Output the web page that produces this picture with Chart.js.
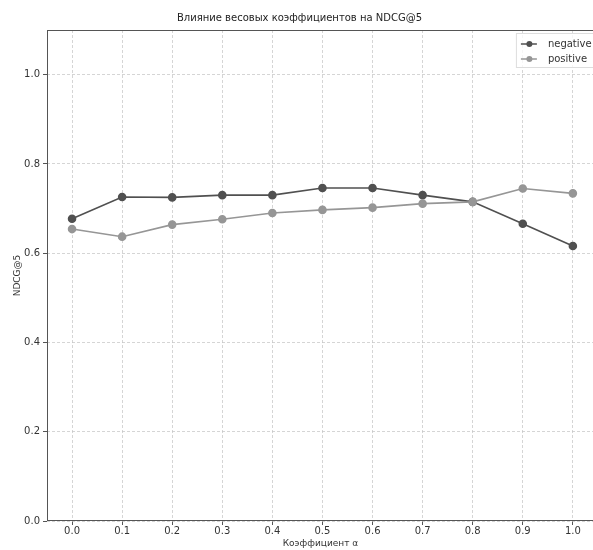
<!DOCTYPE html>
<html>
<head>
<meta charset="utf-8">
<script src="https://cdn.jsdelivr.net/npm/chart.js@4.4.1/dist/chart.umd.min.js"></script>
<style>
  html, body { margin: 0; padding: 0; background: #fff; }
  #wrap { width: 593px; height: 550px; overflow: hidden; position: relative; }
  #chart { display: block; position: absolute; left: 0; top: 0; }
</style>
</head>
<body>
<div id="wrap"><canvas id="chart" width="599" height="550"></canvas></div>
<script>
const alphas = [0.0, 0.1, 0.2, 0.3, 0.4, 0.5, 0.6, 0.7, 0.8, 0.9, 1.0];
const negative = [0.677, 0.726, 0.725, 0.730, 0.730, 0.746, 0.746, 0.730, 0.715, 0.666, 0.616];
const positive = [0.654, 0.637, 0.664, 0.676, 0.690, 0.697, 0.702, 0.711, 0.715, 0.745, 0.734];
const yTicks = [0.0, 0.2, 0.4, 0.6, 0.8, 1.0];

const FONT = "'DejaVu Sans', sans-serif";
const negColor = "#505050";
const posColor = "#969696";

const toPoints = (vals) => vals.map((v, i) => ({ x: alphas[i], y: v }));

// frame around the plot area plus a small legend box in the top-right corner
const framePlugin = {
  id: "frame",
  afterDatasetsDraw(chart) {
    const { ctx, chartArea: a } = chart;
    ctx.save();
    ctx.strokeStyle = "#555";
    ctx.lineWidth = 1;
    ctx.strokeRect(a.left + 0.5, a.top + 0.5, a.right - a.left + 10, a.bottom - a.top - 1);

    const items = [
      { label: "negative", color: negColor },
      { label: "positive", color: posColor },
    ];
    const bx = a.right - 78, by = a.top + 3, bw = 86, bh = 34;
    ctx.fillStyle = "rgba(255,255,255,0.8)";
    ctx.strokeStyle = "#ddd";
    ctx.fillRect(bx, by, bw, bh);
    ctx.strokeRect(bx + 0.5, by + 0.5, bw, bh);
    ctx.font = "10px " + FONT;
    ctx.textBaseline = "middle";
    items.forEach((it, i) => {
      const y = by + 11 + i * 15;
      ctx.strokeStyle = it.color;
      ctx.lineWidth = 1.5;
      ctx.beginPath();
      ctx.moveTo(bx + 5, y);
      ctx.lineTo(bx + 21, y);
      ctx.stroke();
      ctx.fillStyle = it.color;
      ctx.beginPath();
      ctx.arc(bx + 13.5, y, 3, 0, Math.PI * 2);
      ctx.fill();
      ctx.fillStyle = "#333";
      ctx.fillText(it.label, bx + 32, y);
    });
    ctx.restore();
  },
};

const gridOpts = {
  color: "rgba(195,195,195,0.7)",
  tickBorderDash: [],
  tickColor: "#555",
  tickLength: 4,
};

new Chart(document.getElementById("chart"), {
  type: "line",
  data: {
    datasets: [
      {
        label: "negative",
        data: toPoints(negative),
        borderColor: negColor,
        backgroundColor: negColor,
        borderWidth: 1.6,
        pointRadius: 3.5,
        pointHoverRadius: 3.5,
        order: 2,
      },
      {
        label: "positive",
        data: toPoints(positive),
        borderColor: posColor,
        backgroundColor: posColor,
        borderWidth: 1.6,
        pointRadius: 3.5,
        pointHoverRadius: 3.5,
        order: 1,
      },
    ],
  },
  options: {
    responsive: false,
    animation: false,
    layout: { padding: 0 },
    plugins: {
      legend: { display: false },
      tooltip: { enabled: false },
      title: {
        display: true,
        text: "Влияние весовых коэффициентов на NDCG@5",
        color: "#222",
        font: { family: FONT, size: 10, weight: "normal" },
        padding: { top: 12, bottom: 6 },
      },
    },
    scales: {
      x: {
        type: "linear",
        min: -0.05,
        max: 1.042,
        afterBuildTicks: (scale) => {
          scale.ticks = alphas.map((v) => ({ value: v }));
        },
        afterFit: (scale) => {
          scale.height = 29;
          scale.paddingLeft = 0;
          scale.paddingRight = 0;
        },
        ticks: {
          color: "#333",
          font: { family: FONT, size: 10 },
          padding: 0,
          maxRotation: 0,
          callback: (v) => v.toFixed(1),
        },
        grid: gridOpts,
        border: { display: false, dash: [3, 2] },
        title: {
          display: true,
          text: "Коэффициент α",
          color: "#333",
          font: { family: FONT, size: 9 },
          padding: { top: 0, bottom: 1 },
        },
      },
      y: {
        min: 0,
        max: 1.1,
        afterBuildTicks: (scale) => {
          scale.ticks = yTicks.map((v) => ({ value: v }));
        },
        afterFit: (scale) => {
          scale.width = 47;
        },
        ticks: {
          color: "#333",
          font: { family: FONT, size: 10 },
          padding: 3,
          callback: (v) => v.toFixed(1),
        },
        grid: gridOpts,
        border: { display: false, dash: [3, 2] },
        title: {
          display: true,
          text: "NDCG@5",
          color: "#333",
          font: { family: FONT, size: 9 },
          padding: { top: 12, bottom: 0 },
        },
      },
    },
  },
  plugins: [framePlugin],
});
</script>
</body>
</html>
